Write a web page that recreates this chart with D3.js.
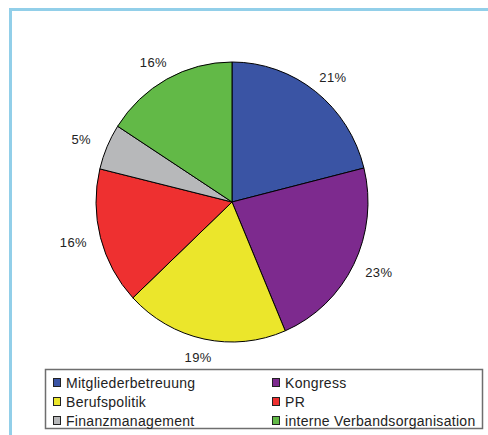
<!DOCTYPE html>
<html>
<head>
<meta charset="utf-8">
<script src="https://cdn.jsdelivr.net/npm/d3@7"></script>
<style>
  body { margin: 0; background: #fff; }
  text { font-family: "Liberation Sans", Arial, sans-serif; fill: #222; }
</style>
</head>
<body>
<div class="canvas"></div>
<script>
// data
const categories = ['Mitgliederbetreuung', 'Kongress', 'Berufspolitik', 'PR', 'Finanzmanagement', 'interne Verbandsorganisation'];
const shares = [21.1, 22.5, 19.4, 15.8, 5.3, 15.9];
const colors = ['#3a54a4', '#7d2a8e', '#ebe62b', '#ee3030', '#b7b8ba', '#62b947'];

const width = 488;
const height = 435;

const svg = d3.select('.canvas')
  .append('svg')
  .attr('width', width)
  .attr('height', height);

// light blue frame (top and left edges)
svg.append('path')
  .attr('d', `M10.5,${height} V9.5 H${width}`)
  .attr('fill', 'none')
  .attr('stroke', '#92cfe9')
  .attr('stroke-width', 3);

const cx = 232, cy = 202;
const radius = 136;
const yStretch = 140 / 136;

const data = categories.map((c, i) => ({ name: c, value: shares[i], color: colors[i] }));

const pie = d3.pie()
  .sort(null)
  .value(d => d.value);

const arcs = pie(data);

const arc = d3.arc()
  .innerRadius(0)
  .outerRadius(radius);

const graph = svg.append('g')
  .attr('transform', `translate(${cx}, ${cy}) scale(1, ${yStretch})`);

graph.selectAll('path')
  .data(arcs)
  .enter()
  .append('path')
  .attr('d', arc)
  .attr('fill', d => d.data.color)
  .attr('stroke', '#000')
  .attr('stroke-width', 1)
  .attr('vector-effect', 'non-scaling-stroke');

// percent labels outside the pie
const labelR = 150;
svg.append('g')
  .selectAll('text')
  .data(arcs)
  .enter()
  .append('text')
  .attr('x', d => {
    const a = (d.startAngle + d.endAngle) / 2;
    return cx + Math.sin(a) * (labelR + 14);
  })
  .attr('y', d => {
    const a = (d.startAngle + d.endAngle) / 2;
    return cy - Math.cos(a) * (labelR * yStretch + 4);
  })
  .attr('dy', '0.35em')
  .attr('text-anchor', 'middle')
  .attr('font-size', 13)
  .attr('letter-spacing', 0.4)
  .text(d => Math.round(d.data.value) + '%');

// legend
const legend = svg.append('g');

legend.append('rect')
  .attr('x', 45.5)
  .attr('y', 369.5)
  .attr('width', 437)
  .attr('height', 59)
  .attr('fill', '#fff')
  .attr('stroke', '#6e6e6e')
  .attr('stroke-width', 1.5);

const colX = [53, 272];
const rowY = [383, 402, 421];

const items = legend.selectAll('g.item')
  .data(data)
  .enter()
  .append('g')
  .attr('class', 'item')
  .attr('transform', (d, i) => `translate(${colX[i % 2]}, ${rowY[Math.floor(i / 2)]})`);

items.append('rect')
  .attr('x', 0.5)
  .attr('y', -4.5)
  .attr('width', 7)
  .attr('height', 8)
  .attr('fill', d => d.color)
  .attr('stroke', '#222')
  .attr('stroke-width', 1);

items.append('text')
  .attr('x', 13)
  .attr('y', 0)
  .attr('dy', '0.36em')
  .attr('font-size', 14)
  .attr('letter-spacing', 0.3)
  .text(d => d.name);
</script>
</body>
</html>
